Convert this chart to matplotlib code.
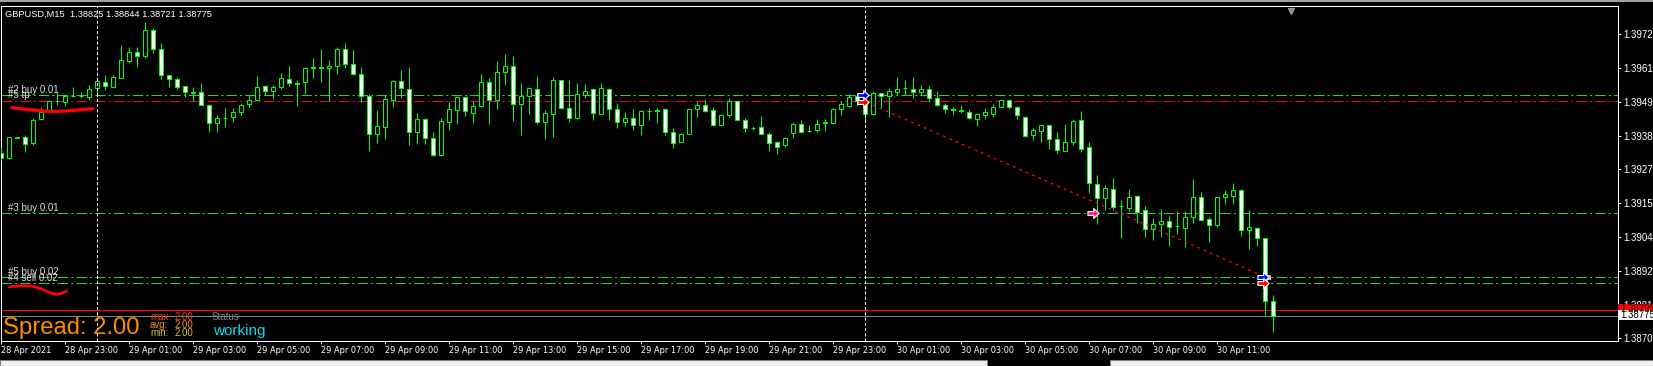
import matplotlib
matplotlib.use("Agg")
import matplotlib.pyplot as plt
from matplotlib import font_manager
from matplotlib.patches import Rectangle
from matplotlib.path import Path
import matplotlib.transforms as mtransforms
import numpy as np
import pandas as pd

# ---------------- data ----------------
symbol_info = "GBPUSD,M15  1.38825 1.38844 1.38721 1.38775"
first_bar_time = "2021-04-28 21:00"

opens = [
    1.39325, 1.39306, 1.39376, 1.39377, 1.39359, 1.39440, 1.39461, 1.39499, 1.39497, 1.39517, 1.39518, 1.39514,
    1.39542, 1.39563, 1.39548, 1.39578, 1.39636, 1.39664, 1.39653, 1.39739, 1.39674, 1.39586,
    1.39573, 1.39549, 1.39529, 1.39529, 1.39486, 1.39424, 1.39443, 1.39447, 1.39463, 1.39490,
    1.39504, 1.39549, 1.39535, 1.39548, 1.39573, 1.39559, 1.39563, 1.39612, 1.39613, 1.39610,
    1.39619, 1.39674, 1.39623, 1.39590, 1.39515, 1.39387, 1.39413, 1.39504, 1.39566, 1.39539,
    1.39396, 1.39438, 1.39373, 1.39317, 1.39430, 1.39470, 1.39512, 1.39460, 1.39482, 1.39563,
    1.39502, 1.39596, 1.39617, 1.39488, 1.39515, 1.39539, 1.39427, 1.39455, 1.39569, 1.39477,
    1.39441, 1.39520, 1.39539, 1.39457, 1.39539, 1.39471, 1.39430, 1.39441, 1.39420, 1.39466,
    1.39467, 1.39471, 1.39396, 1.39362, 1.39389, 1.39474, 1.39486, 1.39468, 1.39420, 1.39452,
    1.39500, 1.39434, 1.39409, 1.39411, 1.39388, 1.39361, 1.39352, 1.39393, 1.39422, 1.39399,
    1.39403, 1.39426, 1.39426, 1.39471, 1.39484, 1.39516, 1.39500, 1.39457, 1.39525, 1.39518,
    1.39531, 1.39542, 1.39539, 1.39529, 1.39539, 1.39510, 1.39486, 1.39471, 1.39468, 1.39463,
    1.39438, 1.39452, 1.39457, 1.39480, 1.39502, 1.39480, 1.39447, 1.39384, 1.39399, 1.39417,
    1.39370, 1.39332, 1.39362, 1.39434, 1.39343, 1.39221, 1.39173, 1.39201, 1.39146, 1.39139,
    1.39178, 1.39130, 1.39069, 1.39086, 1.39093, 1.39077, 1.39072, 1.39109, 1.39174, 1.39100,
    1.39082, 1.39176, 1.39180, 1.39198, 1.39063, 1.39072, 1.39036, 1.38825,
]
highs = [
    1.39345, 1.39379, 1.39379, 1.39385, 1.39441, 1.39480, 1.39503, 1.39531, 1.39523, 1.39548, 1.39529, 1.39554,
    1.39582, 1.39587, 1.39587, 1.39689, 1.39683, 1.39683, 1.39765, 1.39747, 1.39694, 1.39587,
    1.39581, 1.39551, 1.39548, 1.39561, 1.39488, 1.39452, 1.39475, 1.39475, 1.39492, 1.39520,
    1.39584, 1.39554, 1.39554, 1.39593, 1.39618, 1.39570, 1.39616, 1.39644, 1.39675, 1.39638,
    1.39682, 1.39694, 1.39672, 1.39616, 1.39522, 1.39469, 1.39520, 1.39570, 1.39604, 1.39616,
    1.39460, 1.39443, 1.39396, 1.39443, 1.39495, 1.39516, 1.39516, 1.39500, 1.39590, 1.39576,
    1.39635, 1.39658, 1.39651, 1.39559, 1.39547, 1.39584, 1.39469, 1.39581, 1.39570, 1.39570,
    1.39560, 1.39556, 1.39545, 1.39560, 1.39545, 1.39492, 1.39461, 1.39472, 1.39469, 1.39475,
    1.39475, 1.39475, 1.39409, 1.39390, 1.39472, 1.39495, 1.39505, 1.39478, 1.39457, 1.39511,
    1.39501, 1.39441, 1.39415, 1.39449, 1.39396, 1.39364, 1.39378, 1.39427, 1.39435, 1.39418,
    1.39439, 1.39438, 1.39477, 1.39500, 1.39522, 1.39525, 1.39520, 1.39533, 1.39528, 1.39542,
    1.39581, 1.39570, 1.39581, 1.39554, 1.39550, 1.39533, 1.39492, 1.39479, 1.39486, 1.39471,
    1.39460, 1.39475, 1.39489, 1.39506, 1.39505, 1.39483, 1.39449, 1.39409, 1.39418, 1.39418,
    1.39395, 1.39422, 1.39438, 1.39466, 1.39361, 1.39250, 1.39216, 1.39240, 1.39167, 1.39201,
    1.39182, 1.39145, 1.39103, 1.39135, 1.39113, 1.39128, 1.39128, 1.39236, 1.39191, 1.39107,
    1.39175, 1.39199, 1.39223, 1.39201, 1.39131, 1.39073, 1.39037, 1.38844,
]
lows = [
    1.39300, 1.39304, 1.39374, 1.39326, 1.39351, 1.39434, 1.39460, 1.39486, 1.39483, 1.39514, 1.39511, 1.39503,
    1.39514, 1.39537, 1.39545, 1.39576, 1.39627, 1.39616, 1.39646, 1.39663, 1.39574, 1.39548,
    1.39540, 1.39513, 1.39500, 1.39485, 1.39396, 1.39394, 1.39413, 1.39427, 1.39452, 1.39480,
    1.39502, 1.39519, 1.39506, 1.39539, 1.39551, 1.39484, 1.39522, 1.39576, 1.39565, 1.39500,
    1.39592, 1.39612, 1.39587, 1.39497, 1.39332, 1.39359, 1.39371, 1.39478, 1.39511, 1.39351,
    1.39355, 1.39354, 1.39314, 1.39314, 1.39402, 1.39422, 1.39449, 1.39426, 1.39479, 1.39422,
    1.39472, 1.39554, 1.39432, 1.39385, 1.39456, 1.39422, 1.39372, 1.39378, 1.39474, 1.39427,
    1.39440, 1.39511, 1.39435, 1.39456, 1.39435, 1.39409, 1.39415, 1.39402, 1.39385, 1.39435,
    1.39426, 1.39385, 1.39342, 1.39361, 1.39388, 1.39447, 1.39463, 1.39415, 1.39417, 1.39447,
    1.39434, 1.39396, 1.39402, 1.39388, 1.39332, 1.39322, 1.39345, 1.39376, 1.39393, 1.39394,
    1.39396, 1.39399, 1.39422, 1.39452, 1.39480, 1.39484, 1.39426, 1.39452, 1.39475, 1.39447,
    1.39520, 1.39520, 1.39509, 1.39520, 1.39495, 1.39483, 1.39460, 1.39452, 1.39458, 1.39438,
    1.39416, 1.39439, 1.39447, 1.39478, 1.39471, 1.39440, 1.39378, 1.39368, 1.39361, 1.39337,
    1.39324, 1.39331, 1.39351, 1.39327, 1.39190, 1.39085, 1.39132, 1.39131, 1.39038, 1.39128,
    1.39089, 1.39041, 1.39030, 1.39041, 1.39011, 1.39049, 1.39007, 1.39089, 1.39098, 1.39024,
    1.39075, 1.39152, 1.39152, 1.39045, 1.38999, 1.39011, 1.38777, 1.38721,
]
closes = [
    1.39306, 1.39377, 1.39377, 1.39356, 1.39434, 1.39461, 1.39500, 1.39500, 1.39516, 1.39518, 1.39517, 1.39540,
    1.39567, 1.39551, 1.39581, 1.39638, 1.39665, 1.39653, 1.39739, 1.39674, 1.39587, 1.39573,
    1.39546, 1.39529, 1.39528, 1.39486, 1.39424, 1.39441, 1.39442, 1.39461, 1.39486, 1.39504,
    1.39546, 1.39532, 1.39546, 1.39576, 1.39559, 1.39558, 1.39610, 1.39613, 1.39612, 1.39618,
    1.39674, 1.39623, 1.39592, 1.39515, 1.39387, 1.39414, 1.39505, 1.39567, 1.39542, 1.39396,
    1.39438, 1.39373, 1.39318, 1.39432, 1.39471, 1.39512, 1.39465, 1.39483, 1.39563, 1.39502,
    1.39596, 1.39617, 1.39488, 1.39516, 1.39542, 1.39430, 1.39458, 1.39570, 1.39477, 1.39441,
    1.39522, 1.39535, 1.39458, 1.39542, 1.39471, 1.39430, 1.39441, 1.39417, 1.39466, 1.39465,
    1.39468, 1.39396, 1.39359, 1.39388, 1.39471, 1.39486, 1.39467, 1.39420, 1.39452, 1.39500,
    1.39436, 1.39409, 1.39408, 1.39389, 1.39359, 1.39345, 1.39375, 1.39422, 1.39396, 1.39398,
    1.39422, 1.39427, 1.39471, 1.39488, 1.39513, 1.39498, 1.39457, 1.39525, 1.39518, 1.39532,
    1.39540, 1.39543, 1.39529, 1.39540, 1.39511, 1.39485, 1.39471, 1.39470, 1.39467, 1.39441,
    1.39455, 1.39461, 1.39480, 1.39504, 1.39478, 1.39451, 1.39382, 1.39400, 1.39417, 1.39370,
    1.39333, 1.39360, 1.39432, 1.39339, 1.39224, 1.39171, 1.39206, 1.39143, 1.39145, 1.39175,
    1.39126, 1.39069, 1.39084, 1.39093, 1.39075, 1.39078, 1.39107, 1.39174, 1.39099, 1.39080,
    1.39174, 1.39184, 1.39198, 1.39063, 1.39073, 1.39036, 1.38825, 1.38775,
]

x_tick_labels = [
    "28 Apr 2021", "28 Apr 23:00", "29 Apr 01:00", "29 Apr 03:00", "29 Apr 05:00",
    "29 Apr 07:00", "29 Apr 09:00", "29 Apr 11:00", "29 Apr 13:00", "29 Apr 15:00",
    "29 Apr 17:00", "29 Apr 19:00", "29 Apr 21:00", "29 Apr 23:00", "30 Apr 01:00",
    "30 Apr 03:00", "30 Apr 05:00", "30 Apr 07:00", "30 Apr 09:00", "30 Apr 11:00",
]
y_ticks = [1.39725, 1.39610, 1.39495, 1.39380, 1.39270, 1.39155, 1.39040, 1.38925, 1.38810, 1.38700]

order_levels = [1.39519, 1.39500, 1.39121, 1.38905, 1.38885]
order_labels = ["#2 buy 0.01", "#5 tp", "#3 buy 0.01", "#5 buy 0.02", "#4 sell 0.02"]
order_colors = ["#32CD32", "#FF0000", "#32CD32", "#32CD32", "#32CD32"]

bid_price = 1.38775
ask_price = 1.38795

separator_times = ["2021-04-29 00:00", "2021-04-30 00:00"]

# closed-trade line (bar position, price)
trade_x = [108.2, 157.5]
trade_y = [1.39495, 1.38912]
# trade arrows
arrow_x = [107.7, 107.7, 157.8, 157.8, 136.5]
arrow_y = [1.39520, 1.39497, 1.38906, 1.38884, 1.39120]
arrow_colors = ["#0000FF", "#FF0000", "#0000FF", "#FF0000", "#FF1493"]

# hand-drawn red marks on the screenshot
mark1_x = [1.375, 4.0, 6.125, 8.25, 11.5]
mark1_y = [1.39477, 1.39469, 1.39464, 1.39466, 1.39474]
mark2_x = [1.04, 2.375, 3.84, 4.875, 6.125, 6.96, 7.59, 8.21]
mark2_y = [1.38872, 1.38876, 1.38875, 1.38867, 1.38852, 1.38847, 1.38850, 1.38858]

spread_value = 2.00
spread_max, spread_avg, spread_min = 2.00, 2.00, 2.00
status_text = "working"

# ---------------- fonts ----------------
ttf = font_manager.fontManager.ttflist
names = {f.name for f in ttf}
BASE = "Liberation Sans" if "Liberation Sans" in names else "DejaVu Sans"
if "Liberation Sans Narrow" in names:
    XFONT, XSTRETCH = "Liberation Sans Narrow", "normal"
elif any(f.name == "DejaVu Sans" and str(f.stretch) == "condensed" for f in ttf):
    XFONT, XSTRETCH = "DejaVu Sans", "condensed"
else:
    XFONT, XSTRETCH = BASE, "normal"
plt.rcParams["font.family"] = [BASE, "DejaVu Sans"]

# ---------------- figure ----------------
W, H, DPI = 1653, 366, 100
fig = plt.figure(figsize=(W / DPI, H / DPI), dpi=DPI, facecolor="black")
renderer = fig.canvas.get_renderer()


def fit_size(sample, target_px, family, stretch="normal", base=8.0):
    t = fig.text(0, 0, sample, fontsize=base, family=family, fontstretch=stretch)
    w = t.get_window_extent(renderer).width
    t.remove()
    return base * target_px / w


XSIZE = min(fit_size("29 Apr 11:00", 53.0, XFONT, XSTRETCH), 7.6)
INFO_SIZE = fit_size(symbol_info, 207.0, BASE)

L_PX, R_PX, T_PX, B_PX = 0.5, 1617.5, 5.5, 340.5
PX_PER_BAR = 8.0
ax = fig.add_axes([L_PX / W, 1 - B_PX / H, (R_PX - L_PX) / W, (B_PX - T_PX) / H])
ax.set_facecolor("black")

n = len(opens)
assert n == len(highs) == len(lows) == len(closes)
xs = np.arange(n)
o, h, l, c = (np.asarray(v) for v in (opens, highs, lows, closes))

ax.set_xlim((L_PX - 1) / PX_PER_BAR, (R_PX - 1) / PX_PER_BAR)
ax.set_ylim(1.38691, 1.39822)

LIME = "#00FF00"
LW = 0.75

# order lines (dash-dot)
for lev, col in zip(order_levels, order_colors):
    ax.axhline(lev, color=col, lw=LW, linestyle=(0, (10, 3, 2, 3)), zorder=2)

# bid / ask
ax.axhline(ask_price, color="#FF0000", lw=LW, zorder=2)
ax.axhline(bid_price, color="#778899", lw=LW, zorder=2)

# period separators
times = pd.date_range(first_bar_time, periods=n, freq="15min")
for st in separator_times:
    pos = times.get_loc(pd.Timestamp(st))
    ax.axvline(pos, color="white", lw=LW, linestyle=(0, (3, 2)), zorder=5)

# candles
bull = c >= o
ax.vlines(xs, l, h, color=LIME, lw=LW, zorder=3)
ax.bar(xs, np.abs(c - o), bottom=np.minimum(o, c), width=0.6,
       color=np.where(bull, "black", "white"), edgecolor=LIME, linewidth=LW, zorder=4)

# trade line
ax.plot(trade_x, trade_y, color="#FF0000", lw=1.0, linestyle=(0, (2, 3)), zorder=6)

# arrows
arrow_path = Path([(-1, -0.35), (0.05, -0.35), (0.05, -0.9), (1, 0), (0.05, 0.9), (0.05, 0.35),
                   (-1, 0.35), (-1, -0.35)],
                  [Path.MOVETO] + [Path.LINETO] * 6 + [Path.CLOSEPOLY])
for xa, ya, ca in zip(arrow_x, arrow_y, arrow_colors):
    ax.plot([xa], [ya], marker=arrow_path, ms=8, mfc=ca, mec="white", mew=0.8,
            ls="none", zorder=8)
ax.plot([arrow_x[2] + 0.6], [arrow_y[2]], marker="s", ms=3.5, mfc="#E0A040", mec="white",
        mew=0.5, ls="none", zorder=7)

# hand-drawn red marks
ax.plot(mark1_x, mark1_y, color="#FF0000", lw=2.4, solid_capstyle="round", zorder=9)
ax.plot(mark2_x, mark2_y, color="#FF0000", lw=2.0, solid_capstyle="round", zorder=9)

# chart-shift triangle
ax.plot([161.25], [0.985], marker="v", ms=5, color="#8C96A0", ls="none",
        transform=mtransforms.blended_transform_factory(ax.transData, ax.transAxes),
        clip_on=False, zorder=9)

# order labels
for lev, lab in zip(order_levels, order_labels):
    ax.annotate(lab, xy=(0, lev), xycoords=("axes fraction", "data"),
                xytext=(5.2, 1.8), textcoords="offset points",
                color="#DCDCDC", fontsize=7, va="baseline", ha="left", zorder=10)

# axes styling
for sp in ax.spines.values():
    sp.set_color("white")
    sp.set_linewidth(LW)

ax.yaxis.tick_right()
ax.set_yticks(y_ticks)
ax.set_yticklabels([f"{v:.5f}" for v in y_ticks])
ax.tick_params(axis="y", colors="white", length=2.2, width=LW, pad=2.2, labelsize=7)

tick_pos = [i for i, t in enumerate(times) if t.minute == 0 and t.hour % 2 == 1]
ax.set_xticks(tick_pos[:len(x_tick_labels)])
ax.set_xticklabels(x_tick_labels, ha="left", fontfamily=XFONT, fontstretch=XSTRETCH,
                   fontsize=XSIZE)
ax.tick_params(axis="x", colors="white", length=2.5, width=LW, pad=1.4)


# ---------------- figure-level decorations ----------------
def frect(x0, y0, x1, y1, **kw):
    fig.patches.append(Rectangle((x0 / W, 1 - y1 / H), (x1 - x0) / W, (y1 - y0) / H,
                                 transform=fig.transFigure, **kw))


def ftext(xp, yp, s, **kw):
    fig.text(xp / W, 1 - yp / H, s, **kw)


# window strips
frect(0, 0, W, 1.5, facecolor="#A0A0A0", edgecolor="none")
frect(0, 360, 987, 366, facecolor="#F0F0F0", edgecolor="#808080", linewidth=0.75)
frect(1110, 360, W, 366, facecolor="#F0F0F0", edgecolor="#808080", linewidth=0.75)

# ask / bid price boxes
frect(1618, 304, W, 314, facecolor="#FF0000", edgecolor="none")
ftext(1620, 312.5, f"{ask_price:.5f}", color="#400000", fontsize=7, va="baseline")
frect(1618, 310, W, 319.5, facecolor="white", edgecolor="none")
ftext(1620, 318.5, f"{bid_price:.5f}", color="black", fontsize=7, va="baseline")

# symbol info
ftext(5, 17, symbol_info, color="white", fontsize=INFO_SIZE, va="baseline")

# spread panel
ftext(3, 334, f"Spread: {spread_value:.2f}", color="#FF8C00", fontsize=17.2, va="baseline")
for yy, lab, val, col in [(320.5, "max:", spread_max, "#E8401C"),
                          (328.0, "avg:", spread_avg, "#E8901C"),
                          (335.5, "min:", spread_min, "#D8C020")]:
    ftext(150, yy, lab, color=col, fontsize=7, va="baseline")
    ftext(175, yy, f"{val:.2f}", color=col, fontsize=7, va="baseline")
ftext(212, 320.5, "Status", color="#808080", fontsize=7, va="baseline")
ftext(213, 335, status_text, color="#00E0F0", fontsize=11, va="baseline")

fig.savefig("out.png", dpi=DPI, facecolor="black")
